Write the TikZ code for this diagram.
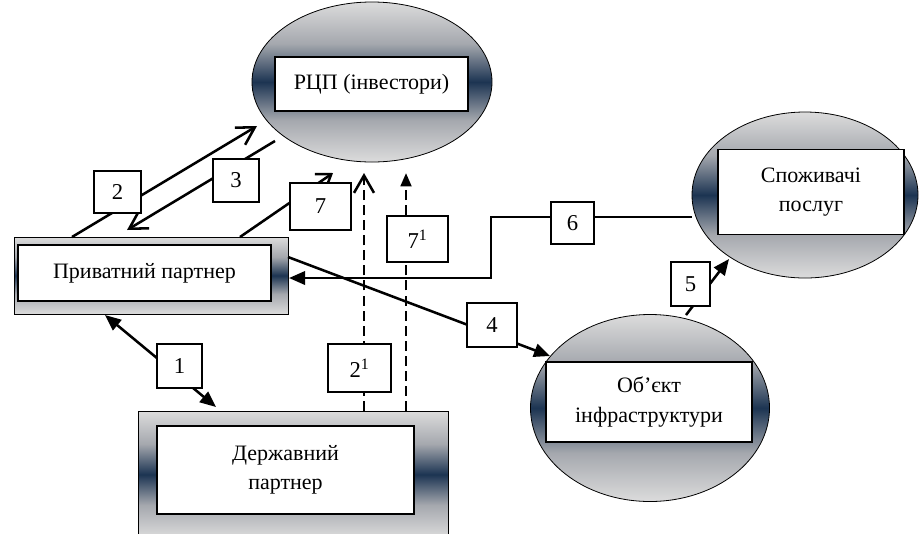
\documentclass[tikz,border=0pt]{standalone}
\usepackage{fontspec}
\setmainfont{Liberation Serif}
\usetikzlibrary{shapes.geometric,arrows.meta}
\definecolor{lgray}{RGB}{220,220,220}
\definecolor{mgray}{RGB}{165,168,174}
\definecolor{navyc}{RGB}{28,52,82}
\pgfdeclareverticalshading{gnavy}{100bp}{color(0bp)=(lgray); color(25bp)=(lgray); color(38bp)=(mgray); color(50bp)=(navyc); color(62bp)=(mgray); color(75bp)=(lgray); color(100bp)=(lgray)}
\tikzset{
  shell/.style={draw=black, line width=0.6pt, shading=gnavy},
  inbox/.style={draw=black, line width=1.1pt, fill=white, align=center, inner sep=0pt,
    font=\fontsize{16.5}{22}\selectfont},
  lbl/.style={draw=black, line width=1pt, fill=white, inner sep=0pt,
    font=\fontsize{17}{18}\selectfont},
  conn/.style={line width=1.9pt},
  fillhead/.style={-{Triangle[length=12pt,width=10pt]}},
  openhead/.style={-{Straight Barb[length=13pt,width=15pt,line width=1.9pt]}},
  dash line/.style={line width=2pt, dash pattern=on 7.5pt off 3.8pt}
}
\begin{document}
\begin{tikzpicture}[x=0.75pt,y=-0.75pt]
\useasboundingbox (0,0) rectangle (923,533);
% shells
\node[shell, ellipse, minimum width=180pt, minimum height=120pt, inner sep=0pt] (rcp) at (372,82) {};
\node[shell, ellipse, minimum width=169.5pt, minimum height=124.5pt, inner sep=0pt] (cons) at (805,195) {};
\node[shell, ellipse, minimum width=179.25pt, minimum height=140.25pt, inner sep=0pt] (obj) at (650,408) {};
\node[shell, rectangle, minimum width=205.5pt, minimum height=57.75pt, inner sep=0pt] (privO) at (151,275.5) {};
\node[shell, rectangle, minimum width=232.5pt, minimum height=95.25pt, inner sep=0pt] (stateO) at (293,474.5) {};
% inner boxes
\node[inbox, minimum width=144.75pt, minimum height=40.5pt] (rcpI) at (371.5,84) {РЦП (інвестори)};
\node[inbox, minimum width=139.5pt, minimum height=63.75pt] (consI) at (811,192) {Споживачі\\послуг};
\node[inbox, minimum width=154.5pt, minimum height=60pt] (objI) at (649,402) {Об’єкт\\інфраструктури};
\node[inbox, minimum width=189.75pt, minimum height=42pt] (privI) at (144.5,273) {Приватний партнер};
\node[inbox, minimum width=192.75pt, minimum height=66pt] (stateI) at (285.5,470) {Державний\\партнер};
% connector end points
\coordinate (p1a) at (105,315);
\coordinate (p1b) at (216,407);
\coordinate (p2a) at (72,237);
\coordinate (p2b) at (257,126);
\coordinate (p3a) at (275,141);
\coordinate (p3b) at (127,230);
\coordinate (p7a) at (240,237);
\coordinate (p7b) at (333,173);
\coordinate (d2a) at (364,411);
\coordinate (d2b) at (364,173);
\coordinate (d7a) at (406,411);
\coordinate (d7b) at (406,173);
\coordinate (p4a) at (288,257);
\coordinate (p4b) at (550,356);
\coordinate (p6a) at (692,217);
\coordinate (p6k1) at (491,217);
\coordinate (p6k2) at (491,278);
\coordinate (p6b) at (289,278);
\coordinate (p5a) at (686,315);
\coordinate (p5b) at (729,259);
% connectors
\draw[conn, {Triangle[length=12pt,width=10pt]}-{Triangle[length=12pt,width=10pt]}] (p1a) -- (p1b);
\draw[conn, openhead] (p2a) -- (p2b);
\draw[conn, openhead] (p3a) -- (p3b);
\draw[conn, -{Straight Barb[length=10pt,width=14pt,line width=1.9pt]}] (p7a) -- (p7b);
\draw[dash line, openhead] (d2a) -- (d2b);
\draw[dash line, -{Triangle[length=10pt,width=8pt]}] (d7a) -- (d7b);
\draw[conn, fillhead] (p4a) -- (p4b);
\draw[conn, fillhead] (p6a) -- (p6k1) -- (p6k2) -- (p6b);
\draw[conn, fillhead] (p5a) -- (p5b);
% labels
\node[lbl, minimum width=33.75pt, minimum height=33pt] (l1) at (179.5,366) {1};
\node[lbl, minimum width=35.25pt, minimum height=31.5pt] (l2) at (117.5,192) {2};
\node[lbl, minimum width=34.5pt, minimum height=32.25pt] (l3) at (236,180.5) {3};
\node[lbl, minimum width=45.75pt, minimum height=35.25pt] (l7) at (320.5,206.5) {7};
\node[lbl, minimum width=45.75pt, minimum height=34.5pt] (l71) at (417.5,239) {7\textsuperscript{1}};
\node[lbl, minimum width=47.25pt, minimum height=36pt] (l21) at (359.5,368) {2\textsuperscript{1}};
\node[lbl, minimum width=37.5pt, minimum height=33pt] (l4) at (492,325) {4};
\node[lbl, minimum width=29.25pt, minimum height=33pt] (l5) at (690.5,284) {5};
\node[lbl, minimum width=32.25pt, minimum height=31.5pt] (l6) at (572.5,223) {6};
\end{tikzpicture}
\end{document}
